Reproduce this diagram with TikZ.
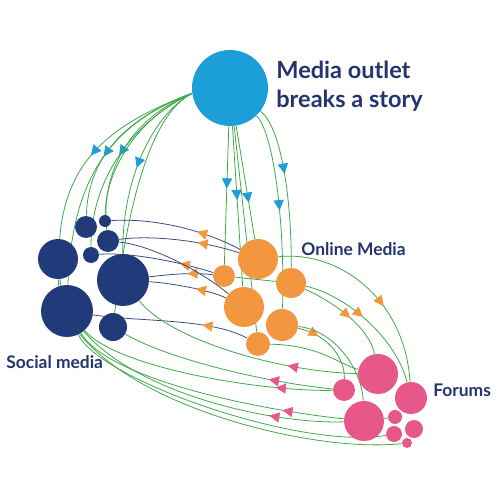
\documentclass[tikz,border=0pt]{standalone}
\usepackage{fontspec}
\setmainfont{Lato}
\usetikzlibrary{arrows.meta,decorations.markings,backgrounds}
\definecolor{outletblue}{HTML}{1C9FD8}
\definecolor{socialnavy}{HTML}{213A79}
\definecolor{onlineorange}{HTML}{F2963F}
\definecolor{forumpink}{HTML}{E8578A}
\definecolor{linkgreen}{HTML}{3DA847}
\definecolor{linknavy}{HTML}{3A4A80}
\definecolor{textnavy}{HTML}{23346E}
\tikzset{
  outlet/.style={circle, fill=outletblue, inner sep=0pt, minimum size=#1*0.4mm},
  social/.style={circle, fill=socialnavy, inner sep=0pt, minimum size=#1*0.4mm},
  online/.style={circle, fill=onlineorange, inner sep=0pt, minimum size=#1*0.4mm},
  forum/.style={circle, fill=forumpink, inner sep=0pt, minimum size=#1*0.4mm},
  link/.style={draw=linkgreen, line width=0.45pt},
  backlink/.style={draw=linknavy, line width=0.45pt},
  headat/.style 2 args={postaction={decorate}, decoration={markings,
    mark=at position #1 with {\arrow{Triangle[length=5.8pt,width=5.8pt,color=#2]}}}},
  grouptext/.style={text=textnavy, font=\bfseries, inner sep=0pt, align=left}
}
\begin{document}
\begin{tikzpicture}[x=0.02cm, y=-0.02cm]
	\useasboundingbox (0,0) rectangle (500,500);
	\node[outlet=38] (M) at (230,88) {};
	\node[social=11] (A) at (86,227) {};
	\node[social=6] (B) at (105,221) {};
	\node[social=11] (C) at (108,241) {};
	\node[social=20] (D) at (58,259) {};
	\node[social=8] (E) at (91,255) {};
	\node[social=26] (F) at (123,280) {};
	\node[social=26] (G) at (67,311) {};
	\node[social=14] (H) at (113,327) {};
	\node[online=20] (O1) at (258,259) {};
	\node[online=11] (O2) at (224,276) {};
	\node[online=15] (O3) at (291,283) {};
	\node[online=20] (O4) at (244,307) {};
	\node[online=16] (O5) at (282,325) {};
	\node[online=12] (O6) at (258,344) {};
	\node[forum=20] (P1) at (378,374) {};
	\node[forum=11] (P2) at (344,390) {};
	\node[forum=16] (P3) at (411,398) {};
	\node[forum=20] (P4) at (364,421) {};
	\node[forum=7] (P5) at (395,417) {};
	\node[forum=9] (P6) at (414,429) {};
	\node[forum=8] (P7) at (394,434) {};
	\node[forum=5] (P8) at (407,443) {};
	\node[grouptext, anchor=north west, font=\bfseries\fontsize{13.4}{16.2}\selectfont] (outlettext) at (276,61) {Media outlet\\breaks a story};
	\node[grouptext, anchor=west, font=\bfseries\fontsize{9.9}{12}\selectfont] (onlinetext) at (301,249) {Online Media};
	\node[grouptext, anchor=west, font=\bfseries\fontsize{9.9}{12}\selectfont] (socialtext) at (6,362) {Social media};
	\node[grouptext, anchor=west, font=\bfseries\fontsize{9.9}{12}\selectfont] (forumtext) at (433,390) {Forums};
	\begin{scope}[on background layer]
	\draw[link, headat={0.57}{outletblue}] (M.188) .. controls +(-80,30) and +(8,-100) .. (D);
	\draw[link, headat={0.45}{outletblue}] (M.188) .. controls +(-75,28) and +(5,-140) .. (G);
	\draw[link, headat={0.5}{outletblue}] (M.188) .. controls +(-55,26) and +(0,-80) .. (E);
	\draw[link] (M.188) .. controls +(-70,26) and +(2,-67) .. (A);
	\draw[link] (M.188) .. controls +(-60,24) and +(-8,-71) .. (C);
	\draw[link] (M.188) .. controls +(-50,22) and +(1,-56) .. (B);
	\draw[link, headat={0.52}{outletblue}] (M.188) .. controls +(-40,22) and +(-1,-100) .. (F);
	\draw[link] (M.188) .. controls +(-40,20) and +(15,-127) .. (H);
	\draw[link, headat={0.45}{outletblue}] (M) -- (O2);
	\draw[link, headat={0.46}{outletblue}] (M) -- (O4);
	\draw[link, headat={0.68}{outletblue}] (M) -- (O1);
	\draw[link] (M) -- (O6);
	\draw[link, headat={0.42}{outletblue}] (M) .. controls +(55,42) and +(1,-63) .. (O3);
	\draw[link, headat={0.5}{outletblue}] (M) .. controls +(45,47) and +(3,-95) .. (O5);
	\draw[backlink, headat={0.35}{onlineorange}] (O1) .. controls +(-58,-31) and +(45,-3) .. (B);
	\draw[backlink, headat={0.35}{onlineorange}] (O1) .. controls +(-58,-19) and +(42,-6) .. (C);
	\draw[backlink, headat={0.3}{onlineorange}] (O2) .. controls +(-44,-14) and +(39,-3) .. (E);
	\draw[backlink, headat={0.4}{onlineorange}] (O2) .. controls +(-34,-4) and +(42,-5) .. (F);
	\draw[backlink, headat={0.4}{onlineorange}] (O4) .. controls +(-34,-17) and +(47,3) .. (F);
	\draw[backlink, headat={0.3}{onlineorange}] (O6) .. controls +(-48,-26) and +(73,11) .. (G);
	\draw[backlink] (O4) .. controls +(-44,-37) and +(42,4) .. (C);
	\draw[link] (O2) -- (O3);
	\draw[link, headat={0.6}{onlineorange}] (O1) .. controls +(82,-9) and +(-6,-98) .. (P3);
	\draw[link, headat={0.55}{onlineorange}] (O3) .. controls +(45,20) and +(-8,-45) .. (P1);
	\draw[link, headat={0.45}{onlineorange}] (O3) .. controls +(55,12) and +(-15,-60) .. (P3);
	\draw[link, headat={0.3}{onlineorange}] (O5) .. controls +(48,10) and +(1,-30) .. (P2);
	\draw[link] (O6) .. controls +(62,1) and +(-38,-9) .. (P1);
	\draw[link] (O5) .. controls +(53,5) and +(-2,-51) .. (P4);
	\draw[link, headat={0.3}{forumpink}] (P1) .. controls +(-98,-2) and +(47,60) .. (F);
	\draw[link, headat={0.3}{forumpink}] (P2) .. controls +(-74,-7) and +(57,33) .. (H);
	\draw[link, headat={0.22}{forumpink}] (P2) .. controls +(-74,2) and +(53,59) .. (G);
	\draw[link, headat={0.22}{forumpink}] (P4) .. controls +(-104,-11) and +(43,69) .. (G);
	\draw[link, headat={0.22}{forumpink}] (P4) .. controls +(-104,4) and +(12,121) .. (D);
	\draw[link] (P7) .. controls +(-94,16) and +(33,69) .. (G);
	\draw[link] (P8) .. controls +(-107,12) and +(2,131) .. (D);
	\draw[link] (P4) -- (P5);
	\end{scope}
\end{tikzpicture}
\end{document}
